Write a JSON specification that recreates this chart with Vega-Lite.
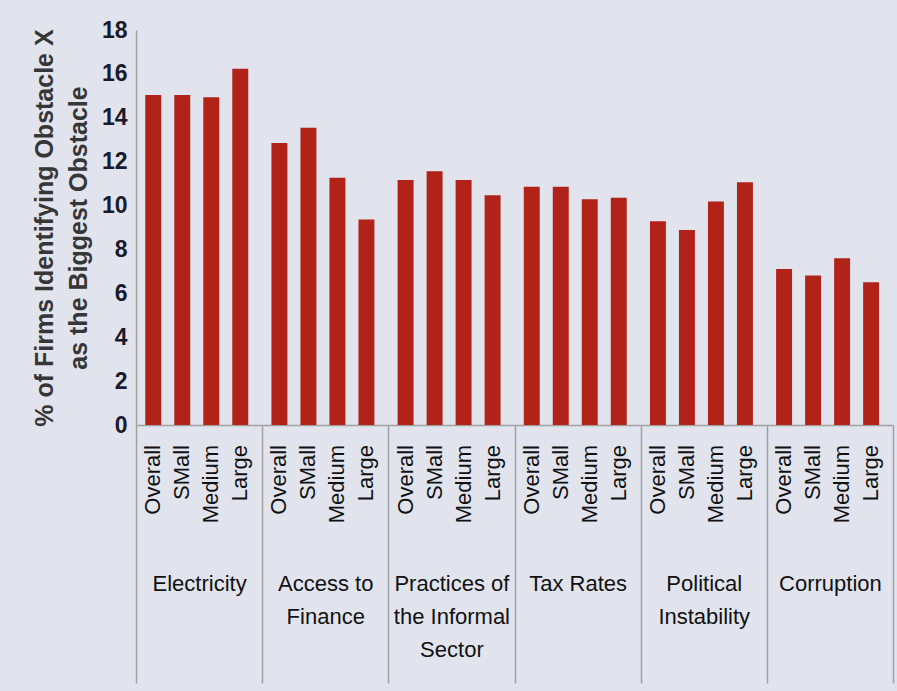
{
  "$schema": "https://vega.github.io/schema/vega-lite/v6.json",
  "width": 757,
  "height": 395,
  "autosize": {"type": "none"},
  "padding": {"left": 136, "top": 30, "right": 4, "bottom": 266},
  "background": "#e1e4ed",
  "config": {"view": {"stroke": null}, "font": "Liberation Sans"},
  "data": {
    "values": [
      {"group": "Electricity", "size": "Overall", "value": 15.04},
      {"group": "Electricity", "size": "SMall", "value": 15.04},
      {"group": "Electricity", "size": "Medium", "value": 14.94},
      {"group": "Electricity", "size": "Large", "value": 16.23},
      {"group": "Access to|Finance", "size": "Overall", "value": 12.85},
      {"group": "Access to|Finance", "size": "SMall", "value": 13.55},
      {"group": "Access to|Finance", "size": "Medium", "value": 11.27},
      {"group": "Access to|Finance", "size": "Large", "value": 9.37},
      {"group": "Practices of|the Informal|Sector", "size": "Overall", "value": 11.17},
      {"group": "Practices of|the Informal|Sector", "size": "SMall", "value": 11.56},
      {"group": "Practices of|the Informal|Sector", "size": "Medium", "value": 11.17},
      {"group": "Practices of|the Informal|Sector", "size": "Large", "value": 10.47},
      {"group": "Tax Rates", "size": "Overall", "value": 10.86},
      {"group": "Tax Rates", "size": "SMall", "value": 10.86},
      {"group": "Tax Rates", "size": "Medium", "value": 10.29},
      {"group": "Tax Rates", "size": "Large", "value": 10.36},
      {"group": "Political|Instability", "size": "Overall", "value": 9.28},
      {"group": "Political|Instability", "size": "SMall", "value": 8.89},
      {"group": "Political|Instability", "size": "Medium", "value": 10.18},
      {"group": "Political|Instability", "size": "Large", "value": 11.06},
      {"group": "Corruption", "size": "Overall", "value": 7.11},
      {"group": "Corruption", "size": "SMall", "value": 6.81},
      {"group": "Corruption", "size": "Medium", "value": 7.6},
      {"group": "Corruption", "size": "Large", "value": 6.5}
    ]
  },
  "encoding": {
    "x": {
      "field": "group",
      "type": "nominal",
      "sort": ["Electricity", "Access to|Finance", "Practices of|the Informal|Sector", "Tax Rates", "Political|Instability", "Corruption"],
      "scale": {"paddingInner": 0, "paddingOuter": 0},
      "axis": {
        "title": null,
        "orient": "bottom",
        "tickBand": "extent",
        "tickSize": 258,
        "tickColor": "#a0a0a0",
        "tickWidth": 1.5,
        "domainColor": "#a0a0a0",
        "domainWidth": 1.5,
        "labelAngle": 0,
        "labelPadding": -110,
        "labelFont": "Liberation Sans",
        "labelFontSize": 22,
        "labelLineHeight": 33,
        "labelColor": "#111111",
        "labelBaseline": "top",
        "labelLimit": 300,
        "labelExpr": "split(datum.label, '|')"
      }
    },
    "xOffset": {
      "field": "size",
      "type": "nominal",
      "sort": ["Overall", "SMall", "Medium", "Large"],
      "scale": {"paddingInner": 0.45, "paddingOuter": 0.4, "align": 0.4}
    }
  },
  "layer": [
    {
      "mark": {"type": "bar", "color": "#b12219"},
      "encoding": {
        "y": {
          "field": "value",
          "type": "quantitative",
          "scale": {"domain": [0, 18], "nice": false},
          "axis": {
            "values": [0, 2, 4, 6, 8, 10, 12, 14, 16, 18],
            "grid": false,
            "ticks": false,
            "domainColor": "#a0a0a0",
            "domainWidth": 1.5,
            "labelFont": "Liberation Sans",
            "labelFontWeight": "bold",
            "labelFontSize": 23,
            "labelColor": "#1a1a2e",
            "labelPadding": 9,
            "title": ["% of Firms Identifying Obstacle X", "as the Biggest Obstacle"],
            "titleFont": "Liberation Sans",
            "titleFontSize": 25,
            "titleFontWeight": "bold",
            "titleColor": "#363636",
            "titleLineHeight": 34,
            "titlePadding": 10
          }
        }
      }
    },
    {
      "mark": {"type": "text", "angle": 270, "align": "right", "baseline": "middle", "dx": -20, "fontSize": 22, "color": "#111111", "font": "Liberation Sans"},
      "encoding": {
        "y": {"datum": 0, "type": "quantitative"},
        "text": {"field": "size"}
      }
    }
  ]
}
